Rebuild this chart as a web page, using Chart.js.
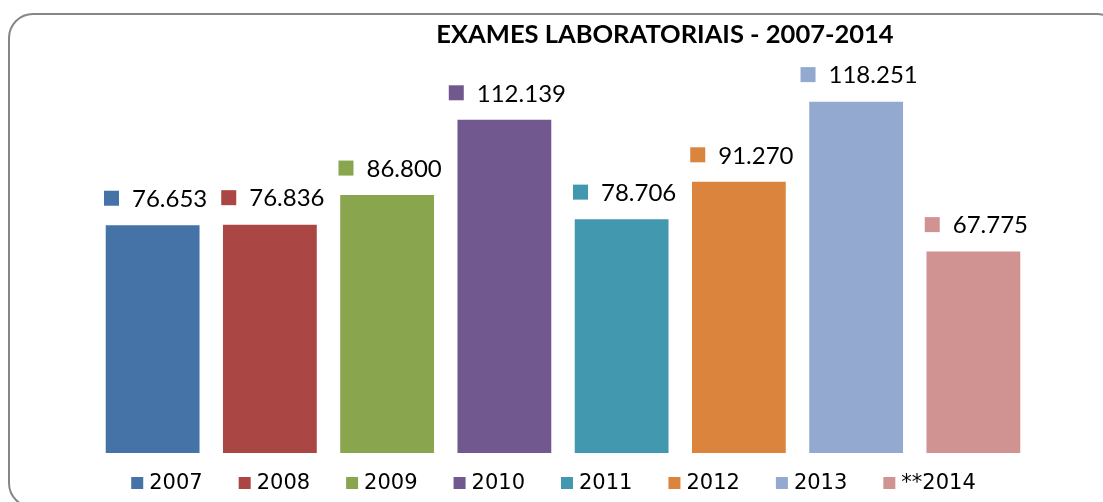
<!DOCTYPE html>
<html>
<head>
<meta charset="utf-8">
<title>Exames laboratoriais 2007-2014</title>
<script src="https://cdn.jsdelivr.net/npm/chart.js@4.4.1/dist/chart.umd.min.js"></script>
<style>
    body { margin: 0; background: #ffffff; }
    #ExamesChart { display: block; }
</style>
</head>
<body>
<canvas id="ExamesChart" width="1103" height="502"></canvas>
<script>
// dados do grafico
var anos = ['2007', '2008', '2009', '2010', '2011', '2012', '2013', '**2014'];
var exames = [76653, 76836, 86800, 112139, 78706, 91270, 118251, 67775];
var cores = ['#4572A7', '#AA4643', '#89A54E', '#71588F', '#4198AF', '#DB843D', '#93A9CF', '#D19392'];
var titulo = 'EXAMES LABORATORIAIS - 2007-2014';

function FormatarNumero(valor) {
    return String(valor).replace(/\B(?=(\d{3})+(?!\d))/g, '.');
}

// um dataset por ano, assim cada barra tem sua propria entrada na legenda
var datasets = [];
for (var i = 0; i < anos.length; ++i) {
    var valores = [];
    for (var j = 0; j < anos.length; ++j) {
        valores.push(i == j ? exames[i] : null);
    }
    datasets.push({
        label: anos[i],
        data: valores,
        backgroundColor: cores[i],
        borderWidth: 0,
        grouped: false,
        barPercentage: 0.8,
        categoryPercentage: 1
    });
}

// moldura arredondada do grafico
var molduraPlugin = {
    id: 'moldura',
    beforeDraw: function (chart) {
        var ctx = chart.ctx;
        ctx.save();
        ctx.fillStyle = '#ffffff';
        ctx.fillRect(0, 0, chart.width, chart.height);
        ctx.strokeStyle = '#868686';
        ctx.lineWidth = 2;
        ctx.beginPath();
        ctx.roundRect(9, 14, 1112, 493, 24);
        ctx.stroke();
        ctx.restore();
    }
};

// rotulos de valor com o quadrado da cor da serie
var rotulosPlugin = {
    id: 'rotulos',
    afterDatasetsDraw: function (chart) {
        var ctx = chart.ctx;
        ctx.save();
        ctx.font = '24px Lato';
        ctx.textBaseline = 'middle';
        ctx.textAlign = 'left';
        for (var i = 0; i < chart.data.datasets.length; ++i) {
            var meta = chart.getDatasetMeta(i);
            var barra = meta.data[i];
            if (!barra) continue;
            var texto = FormatarNumero(chart.data.datasets[i].data[i]);
            var larguraTexto = ctx.measureText(texto).width;
            var largura = 15 + 13 + larguraTexto;
            var x = barra.x + 3 - largura / 2;
            var y = barra.y - 27;
            ctx.fillStyle = chart.data.datasets[i].backgroundColor;
            ctx.fillRect(x, y - 7.5, 15, 15);
            ctx.fillStyle = '#000000';
            ctx.fillText(texto, x + 28, y + 1);
        }
        ctx.restore();
    }
};

// titulo e legenda desenhados a mao (o titulo fica deslocado para a direita)
var tituloLegendaPlugin = {
    id: 'tituloLegenda',
    afterDraw: function (chart) {
        var ctx = chart.ctx;
        ctx.save();
        ctx.fillStyle = '#000000';
        ctx.textBaseline = 'middle';
        ctx.textAlign = 'center';
        ctx.font = 'bold 25.5px Lato';
        ctx.fillText(titulo, 665, 35);

        ctx.font = '21px "DejaVu Sans"';
        ctx.textAlign = 'left';
        var itens = chart.data.datasets;
        var total = 0;
        var larguras = [];
        for (var i = 0; i < itens.length; ++i) {
            larguras.push(ctx.measureText(itens[i].label).width);
            total += 12 + 6 + larguras[i];
        }
        total += 36 * (itens.length - 1);
        var x = chart.width / 2 + 2 - total / 2;
        var y = 483;
        for (var i = 0; i < itens.length; ++i) {
            ctx.fillStyle = itens[i].backgroundColor;
            ctx.fillRect(x, y - 6, 12, 12);
            ctx.fillStyle = '#000000';
            ctx.fillText(itens[i].label, x + 18, y + 1);
            x += 12 + 6 + larguras[i] + 36;
        }
        ctx.restore();
    }
};

const config = {
    type: 'bar',
    data: {
        labels: anos,
        datasets: datasets
    },
    options: {
        responsive: false,
        animation: false,
        layout: {
            padding: { left: 94, right: 71, top: 37, bottom: 49 }
        },
        plugins: {
            legend: { display: false },
            title: { display: false },
            tooltip: { enabled: false }
        },
        scales: {
            x: { display: false },
            y: {
                display: false,
                beginAtZero: true,
                min: 0,
                max: 140000
            }
        }
    },
    plugins: [molduraPlugin, rotulosPlugin, tituloLegendaPlugin]
};

var myChart = new Chart(document.getElementById('ExamesChart'), config);
</script>
</body>
</html>
